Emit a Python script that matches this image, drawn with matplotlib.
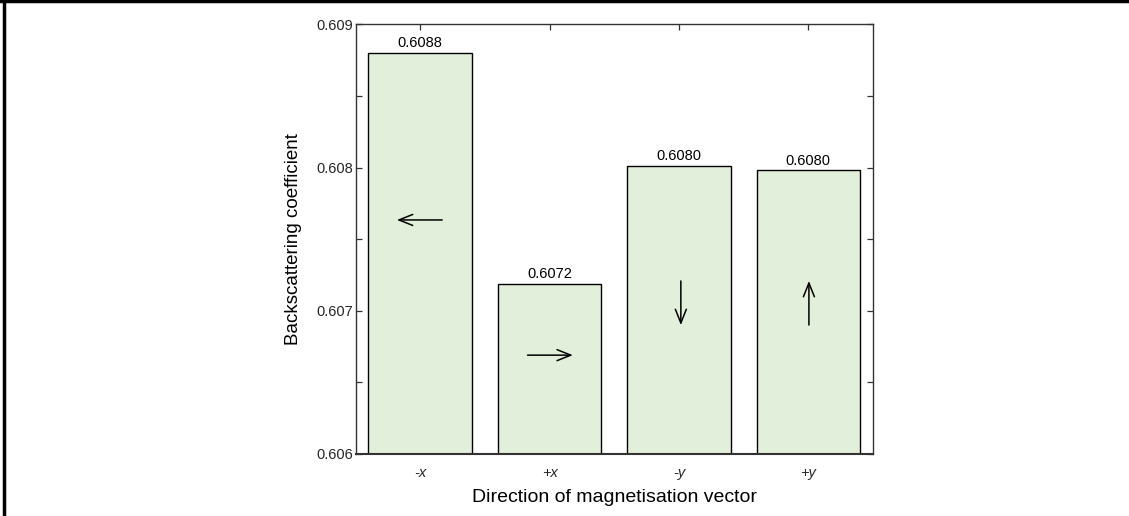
import numpy as np
import matplotlib
matplotlib.use("Agg")
import matplotlib.pyplot as plt
from matplotlib.ticker import MultipleLocator
from matplotlib.lines import Line2D

plt.rcParams['font.family'] = ['Liberation Sans', 'DejaVu Sans']

# data
directions = ['-x', '+x', '-y', '+y']
coeffs = [0.6088, 0.60719, 0.60801, 0.60798]
labels = ['0.6088', '0.6072', '0.6080', '0.6080']
# arrow annotations (start, end) in data coords
arrows = [((1.17, 0.607634), (0.82, 0.607634)),
          ((1.83, 0.60669), (2.18, 0.60669)),
          ((3.015, 0.607208), (3.015, 0.60690)),
          ((4.005, 0.60690), (4.005, 0.607208))]

fig = plt.figure(figsize=(11.29, 5.16), dpi=100)
ax = fig.add_axes([0.3149, 0.1202, 0.4583, 0.8327])

x = np.arange(1, len(directions) + 1)
ax.bar(x, np.array(coeffs) - 0.606, bottom=0.606, width=0.8,
       color='#e2efda', edgecolor='black', linewidth=1.0, zorder=2)

for xi, v, lab in zip(x, coeffs, labels):
    ax.text(xi, v + 0.00002, lab, ha='center', va='bottom', fontsize=10.5)

for (x0, y0), (x1, y1) in arrows:
    ax.annotate('', xy=(x1, y1), xytext=(x0, y0),
                arrowprops=dict(arrowstyle='->,head_length=0.55,head_width=0.22',
                                color='black', lw=1.1,
                                mutation_scale=18, shrinkA=0, shrinkB=0),
                zorder=3)

ax.set_xlim(0.5, 4.5)
ax.set_ylim(0.606, 0.609)
ax.set_xticks(x)
ax.set_xticklabels(directions, fontstyle='italic', fontsize=10.5)
ax.yaxis.set_major_locator(MultipleLocator(0.001))
ax.yaxis.set_minor_locator(MultipleLocator(0.0005))
ax.yaxis.set_major_formatter(matplotlib.ticker.FormatStrFormatter('%.3f'))
ax.tick_params(axis='both', which='both', direction='in', top=True, right=True,
               length=4, width=0.9, colors='#333333', labelcolor='#262626',
               labelsize=10.5)
ax.tick_params(axis='x', pad=9)
ax.tick_params(axis='y', pad=2)
for s in ax.spines.values():
    s.set_color('#333333')
    s.set_linewidth(1.0)
ax.spines['bottom'].set_linewidth(1.5)

ax.set_xlabel('Direction of magnetisation vector', fontsize=14, labelpad=6)
ax.set_ylabel('Backscattering coefficient', fontsize=13.5, labelpad=10)

# cropped frame around the figure (top and left edges only)
fig.add_artist(Line2D([0.0, 1.0], [0.998, 0.998], transform=fig.transFigure,
                      color='black', lw=2.5))
fig.add_artist(Line2D([0.0035, 0.0035], [0.0, 1.0], transform=fig.transFigure,
                      color='black', lw=2.5))

fig.savefig('out.png', dpi=100)
